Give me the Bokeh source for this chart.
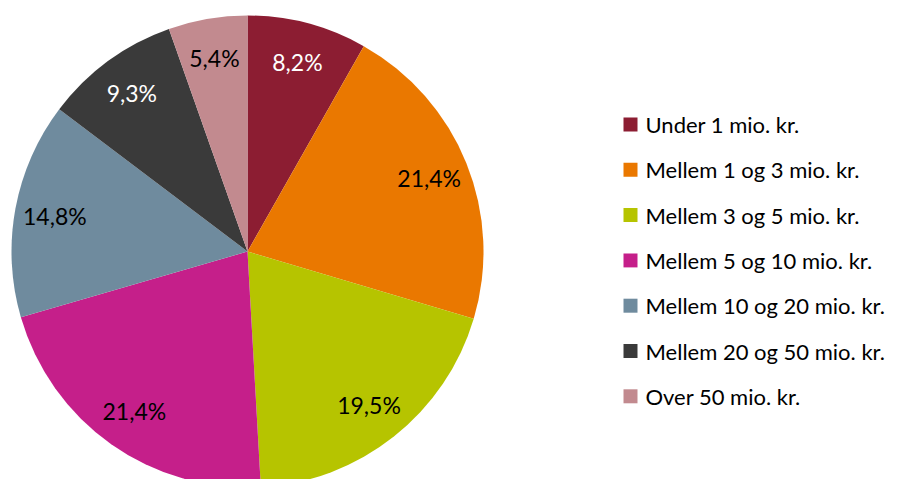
import math
from bokeh.plotting import figure
from bokeh.models import Range1d, ColumnDataSource
from bokeh.core.properties import value
from bokeh.embed import file_html
from bokeh.resources import INLINE

categories = ["Under 1 mio. kr.", "Mellem 1 og 3 mio. kr.", "Mellem 3 og 5 mio. kr.",
              "Mellem 5 og 10 mio. kr.", "Mellem 10 og 20 mio. kr.",
              "Mellem 20 og 50 mio. kr.", "Over 50 mio. kr."]
shares = [8.2, 21.4, 19.5, 21.4, 14.8, 9.3, 5.4]
labels = ["8,2%", "21,4%", "19,5%", "21,4%", "14,8%", "9,3%", "5,4%"]
colors = ["#8C1D32", "#EA7800", "#B6C400", "#C51F8A", "#6F8B9E", "#3A3A3A", "#C28A8F"]
label_colors = ["white", "black", "black", "black", "black", "white", "black"]

W, H = 900, 479
# data units == screen pixels; y data = 479 - image y
p = figure(width=W, height=H, output_backend="svg", toolbar_location=None,
           x_range=Range1d(0, W), y_range=Range1d(479 - H, 479),
           min_border=0, outline_line_color=None)
p.axis.visible = False
p.grid.visible = False

cx, cy, r = 247, 479 - 251, 236
total = sum(shares)
starts, ends, lx, ly = [], [], [], []
cum = 0.0
for s in shares:
    a0 = math.pi / 2 - 2 * math.pi * cum / total
    cum += s
    a1 = math.pi / 2 - 2 * math.pi * cum / total
    starts.append(a0)
    ends.append(a1)
    mid = (a0 + a1) / 2
    lx.append(cx + 0.83 * r * math.cos(mid))
    ly.append(cy + 0.83 * r * math.sin(mid))

src = ColumnDataSource(dict(start=starts, end=ends, color=colors, lx=lx, ly=ly,
                            label=labels, lc=label_colors, cat=categories))
p.wedge(x=cx, y=cy, radius=r, start_angle="start", end_angle="end", direction="clock",
        fill_color="color", line_color=None, source=src)
p.text(x="lx", y="ly", text="label", text_color="lc", text_align="center",
       text_baseline="middle", text_font=value("Lato"), text_font_size="23px", source=src)

# legend
leg_top = 479 - 124
leg_step = 45.3
ys = [leg_top - i * leg_step for i in range(len(categories))]
p.rect(x=630, y=ys, width=14, height=14, fill_color=colors, line_color=None)
p.text(x=[645] * len(categories), y=ys, text=categories, text_color="black",
       text_align="left", text_baseline="middle", text_font=value("Lato"),
       text_font_size="22px")

open("out.html", "w").write(file_html(p, INLINE))
